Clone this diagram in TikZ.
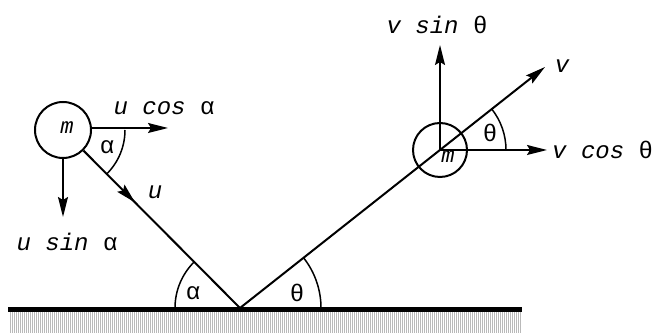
\documentclass[tikz,border=0pt]{standalone}
\usepackage{fontspec}
\setmainfont{Liberation Mono}
\usetikzlibrary{arrows.meta,decorations.markings,patterns.meta}
\begin{document}
\begin{tikzpicture}[x=1pt,y=1pt,
  ln/.style={line width=2pt},
  vecline/.style={line width=1.6pt},
  arcline/.style={line width=1.5pt},
  tip/.style={-{Stealth[length=20pt,width=10pt,inset=3pt]}},
  lbl/.style={font=\fontsize{24}{28}\selectfont\itshape, inner sep=0pt},
  ball/.style={circle, draw, line width=2pt, inner sep=0pt},
  midarrow/.style={postaction={decorate, decoration={markings,
     mark=at position #1 with {\arrow{Stealth[length=20pt,width=10pt,inset=3pt]}}}}}
]
\useasboundingbox (0,0) rectangle (656,334);
% ground
\fill[pattern={Lines[angle=90,distance=2pt,line width=0.8pt]}, pattern color=gray!55] (10,1) rectangle (521,22);
\coordinate (gL) at (8,24.5);
\coordinate (gR) at (522,24.5);
\draw[line width=5pt] (gL) -- (gR);
\coordinate (O) at (240,26);
% balls
\node[ball, minimum size=56pt] (bL) at (63,204) {};
\node[lbl, font=\fontsize{22}{26}\selectfont\itshape] (mL) at (67,206) {m};
\node[ball, minimum size=54pt] (bR) at (440,184) {};
\node[lbl, font=\fontsize{22}{26}\selectfont\itshape] (mR) at (448,177) {m};
% incoming and outgoing paths
\draw[ln, midarrow=0.33] (bL) -- (O);
\coordinate (vT) at (545,267);
\draw[ln, tip] (O) -- (vT);
% components
\coordinate (ucT) at (168,206);
\draw[vecline, tip] (bL.east |- ucT) -- (ucT);
\coordinate (usT) at (63,117);
\draw[vecline, tip] (bL.south) -- (usT);
\coordinate (vsT) at (440,289);
\draw[vecline, tip] (bR.center) -- (vsT);
\coordinate (vcT) at (547,184);
\draw[vecline, tip] (bR.center) -- (vcT);
% angle arcs
\draw[arcline] ([shift={(0:62)}]bL.center) arc[start angle=0, end angle=-45, radius=62];
\draw[arcline] ([shift={(0:66)}]bR.center) arc[start angle=0, end angle=38.3, radius=66];
\draw[arcline] ([shift={(180:65)}]O) arc[start angle=180, end angle=134.8, radius=65];
\draw[arcline] ([shift={(0:81)}]O) arc[start angle=0, end angle=38.3, radius=81];
% labels
\node[lbl] (lu) at (155,142) {u};
\node[lbl] (luc) at (164,226) {u cos {\upshape α}};
\node[lbl] (lus) at (67,92) {u sin {\upshape α}};
\node[lbl, font=\fontsize{24}{28}\selectfont] (la1) at (107,187) {α};
\node[lbl] (lv) at (562,268) {v};
\node[lbl] (lvs) at (437,309) {v sin {\upshape θ}};
\node[lbl, anchor=west] (lvc) at (552,184) {v cos {\upshape θ}};
\node[lbl, font=\fontsize{24}{28}\selectfont] (lt1) at (490,201) {θ};
\node[lbl, font=\fontsize{24}{28}\selectfont] (la2) at (193,41) {α};
\node[lbl, font=\fontsize{24}{28}\selectfont] (lt2) at (297,41) {θ};
\end{tikzpicture}
\end{document}
